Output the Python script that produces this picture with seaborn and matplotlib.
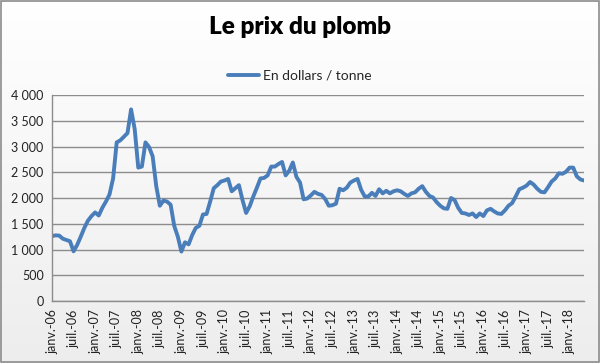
import numpy as np
import pandas as pd
import matplotlib
matplotlib.use("Agg")
import matplotlib.pyplot as plt
from matplotlib.patches import Rectangle
import seaborn as sns

# Monthly lead price, janv.-06 .. mai-18 (USD / tonne)
prices = [
    1260, 1275, 1270, 1210, 1185, 1160, 965, 1090, 1250, 1420, 1560, 1650,
    1720, 1660, 1810, 1930, 2070, 2380, 3080, 3120, 3190, 3260, 3720, 3340,
    2590, 2610, 3080, 2990, 2810, 2230, 1850, 1950, 1930, 1870, 1460, 1250,
    960, 1140, 1100, 1280, 1420, 1460, 1680, 1690, 1930, 2190, 2250, 2320,
    2340, 2370, 2130, 2190, 2250, 1960, 1710, 1840, 2030, 2200, 2380, 2390,
    2440, 2610, 2610, 2660, 2700, 2440, 2530, 2690, 2410, 2300, 1975, 1990,
    2050, 2120, 2080, 2060, 1980, 1850, 1860, 1890, 2180, 2150, 2200, 2300,
    2340, 2370, 2160, 2030, 2030, 2100, 2040, 2170, 2090, 2140, 2090, 2130,
    2150, 2130, 2080, 2040, 2090, 2110, 2180, 2230, 2120, 2040, 2010, 1920,
    1850, 1800, 1790, 2000, 1960, 1810, 1710, 1700, 1670, 1700, 1630, 1700,
    1650, 1760, 1790, 1740, 1700, 1690, 1760, 1850, 1900, 2030, 2170, 2200,
    2240, 2310, 2260, 2180, 2120, 2110, 2210, 2320, 2380, 2480, 2470, 2510,
    2590, 2590, 2420, 2360, 2340,
]
month_index = list(range(len(prices)))

tick_labels = [
    "janv.-06", "juil.-06", "janv.-07", "juil.-07", "janv.-08", "juil.-08",
    "janv.-09", "juil.-09", "janv.-10", "juil.-10", "janv.-11", "juil.-11",
    "janv.-12", "juil.-12", "janv.-13", "juil.-13", "janv.-14", "juil.-14",
    "janv.-15", "juil.-15", "janv.-16", "juil.-16", "janv.-17", "juil.-17",
    "janv.-18",
]
y_ticks = [0, 500, 1000, 1500, 2000, 2500, 3000, 3500, 4000]
y_labels = ["0", "500", "1 000", "1 500", "2 000", "2 500", "3 000", "3 500", "4 000"]

title = "Le prix du plomb"
series_name = "En dollars / tonne"

df = pd.DataFrame({"mois": month_index, series_name: prices})

sns.set_theme(style="white")
plt.rcParams["font.family"] = ["Lato", "DejaVu Sans"]

fig = plt.figure(figsize=(6.0, 3.63), dpi=100)

# background gradient
bg = fig.add_axes([0, 0, 1, 1], zorder=0)
grad = np.linspace(1.0, 0.93, 256).reshape(-1, 1)
bg.imshow(np.dstack([grad, grad, grad]), aspect="auto", extent=[0, 1, 0, 1])
bg.set_axis_off()

ax = fig.add_axes([52 / 600, 1 - 301 / 363, (584 - 52) / 600, (301 - 95) / 363], zorder=1)
ax.patch.set_alpha(0)

sns.lineplot(data=df, x="mois", y=series_name, ax=ax, color="#4a7ebb",
             linewidth=2.8, label=series_name, legend=False)

ax.set_xlim(0, len(prices) - 1)
ax.set_ylim(0, 4000)
ax.set_yticks(y_ticks)
ax.set_yticklabels(y_labels, fontsize=9)
ax.set_xticks(list(range(0, 6 * len(tick_labels), 6)))
ax.set_xticklabels(tick_labels, rotation=90, fontsize=9)
ax.set_xlabel("")
ax.set_ylabel("")
ax.grid(axis="y", color="#8c8c8c", linewidth=1.0)
ax.set_axisbelow(True)
for s in ["top", "right"]:
    ax.spines[s].set_visible(False)
for s in ["left", "bottom"]:
    ax.spines[s].set_color("#8c8c8c")
    ax.spines[s].set_linewidth(1.0)
ax.tick_params(axis="both", which="both", direction="out", length=4,
               color="#8c8c8c", width=1, pad=2, labelcolor="#222222")

fig.text(0.5, 1 - 27 / 363, title, ha="center", va="center",
         fontsize=17.5, fontweight="heavy", color="#000000")

handles, labels = ax.get_legend_handles_labels()
fig.legend(handles, labels, loc="center", bbox_to_anchor=(0.5, 1 - 76 / 363),
           frameon=False, fontsize=10, handlelength=2.2, handletextpad=0.3)

fig.patches.append(Rectangle((0.001, 0.002), 0.997, 0.995, transform=fig.transFigure,
                             fill=False, edgecolor="#8c8c8c", linewidth=1.2, zorder=5))

fig.savefig("out.png", dpi=100)
